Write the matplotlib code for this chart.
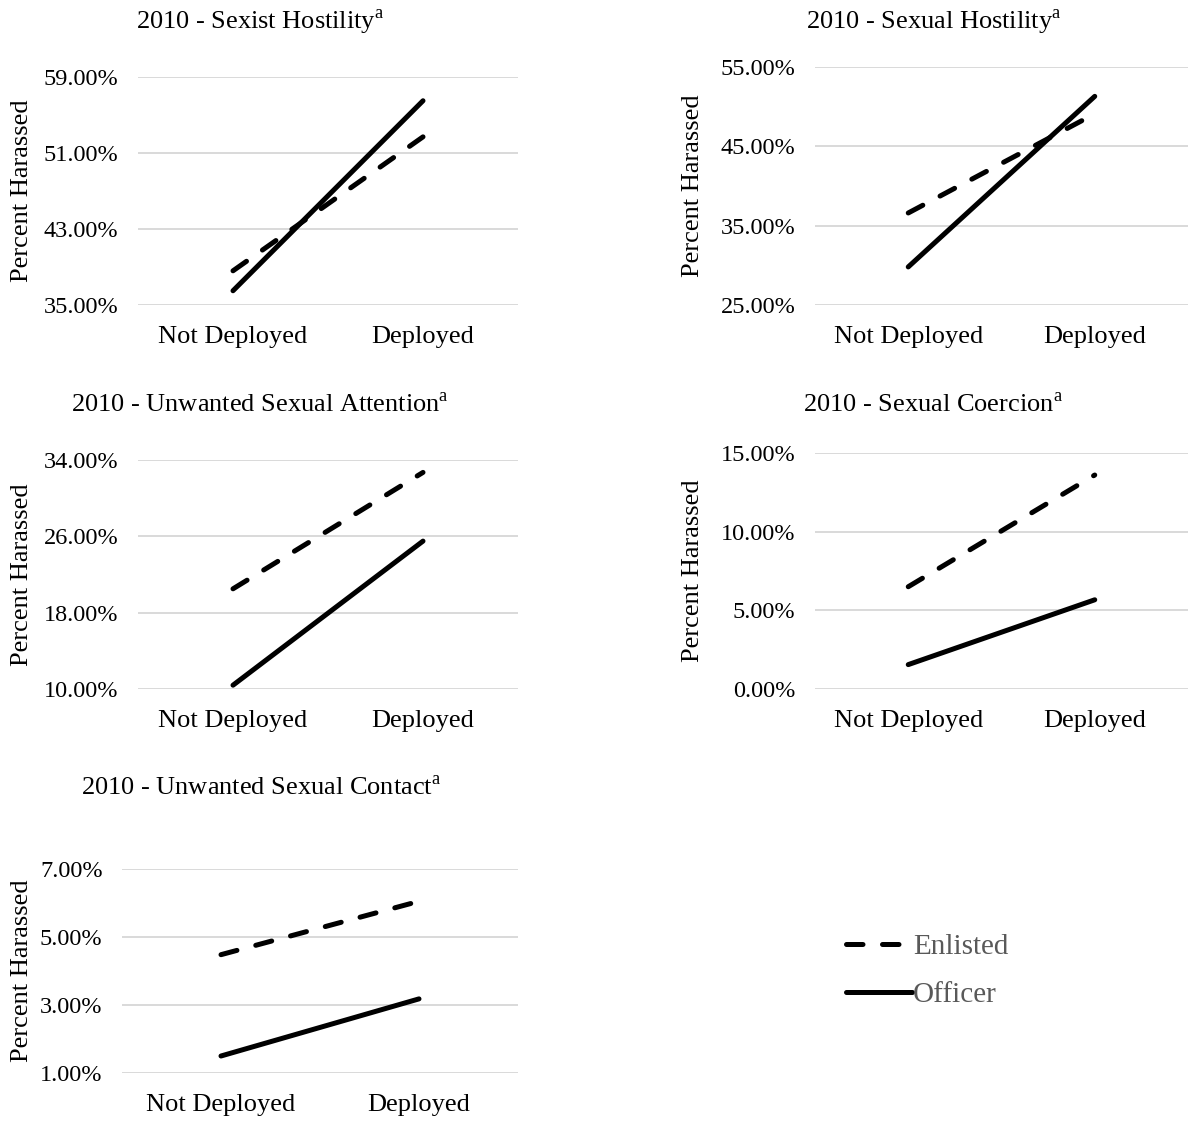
import matplotlib
matplotlib.use("Agg")
import matplotlib.pyplot as plt
from matplotlib.ticker import FuncFormatter

plt.rcParams['font.family'] = ['Liberation Serif', 'DejaVu Serif']
plt.rcParams['mathtext.fontset'] = 'custom'
plt.rcParams['mathtext.rm'] = 'Liberation Serif'

# data (percent harassed)
categories = ["Not Deployed", "Deployed"]
titles = ["2010 - Sexist Hostility", "2010 - Sexual Hostility",
          "2010 - Unwanted Sexual Attention", "2010 - Sexual Coercion",
          "2010 - Unwanted Sexual Contact"]
enlisted = [[38.6, 52.7], [36.6, 49.1], [20.5, 32.7], [6.5, 13.6], [4.48, 6.05]]
officer = [[36.5, 56.5], [29.8, 51.3], [10.4, 25.5], [1.55, 5.67], [1.5, 3.18]]
yticks = [[35, 43, 51, 59], [25, 35, 45, 55], [10, 18, 26, 34], [0, 5, 10, 15], [1, 3, 5, 7]]

W, H = 1188, 1123
fig = plt.figure(figsize=(W / 100, H / 100), dpi=100)

# axes boxes in pixels: left, right, top, bottom
boxes = [(138, 518, 77, 305), (815, 1188, 67, 305),
         (138, 518, 460, 689), (815, 1188, 453, 689),
         (122, 518, 869, 1073)]
title_pos = [(260, 22), (934, 22), (260, 405), (933, 405), (261, 788)]
ylab_x = [22, 693, 22, 693, 22]

lw = 3.6
dash = (0, (3.3, 3.9))
lines = None
for i, (l, r, t, b) in enumerate(boxes):
    ax = fig.add_axes([l / W, 1 - b / H, (r - l) / W, (b - t) / H])
    x = range(len(categories))
    e, = ax.plot(x, enlisted[i], color='black', lw=lw, linestyle=dash,
                 dash_capstyle='round', solid_capstyle='round', label='Enlisted')
    o, = ax.plot(x, officer[i], color='black', lw=lw,
                 solid_capstyle='round', label='Officer')
    lines = (e, o)
    ax.set_xlim(-0.5, 1.5)
    ax.set_ylim(yticks[i][0], yticks[i][-1])
    ax.set_yticks(yticks[i])
    ax.yaxis.set_major_formatter(FuncFormatter(lambda v, p: f"{v:.2f}%"))
    ax.set_xticks(list(x))
    ax.set_xticklabels(categories)
    ax.grid(axis='y', color='#d9d9d9', lw=1.4)
    ax.set_axisbelow(True)
    for s in ax.spines.values():
        s.set_visible(False)
    ax.tick_params(axis='y', length=0, pad=14, labelsize=17.5)
    ax.tick_params(axis='x', length=0, pad=15, labelsize=19)
    tx, ty = title_pos[i]
    fig.text(tx / W, 1 - ty / H, titles[i] + r"$^{\mathrm{a}}$", ha='center', va='center', fontsize=19)
    fig.text(ylab_x[i] / W, 1 - ((t + b) / 2) / H, "Percent Harassed", rotation=90,
             ha='center', va='center', fontsize=19)

leg = fig.legend(lines, ["Enlisted", "Officer"], loc='center left',
                 bbox_to_anchor=(846 / W, 1 - 971 / H), frameon=False,
                 fontsize=21, handlelength=2.25, handletextpad=0.05,
                 labelspacing=0.72, borderpad=0, borderaxespad=0)
for txt in leg.get_texts():
    txt.set_color('#595959')

fig.savefig("out.png", dpi=100)
